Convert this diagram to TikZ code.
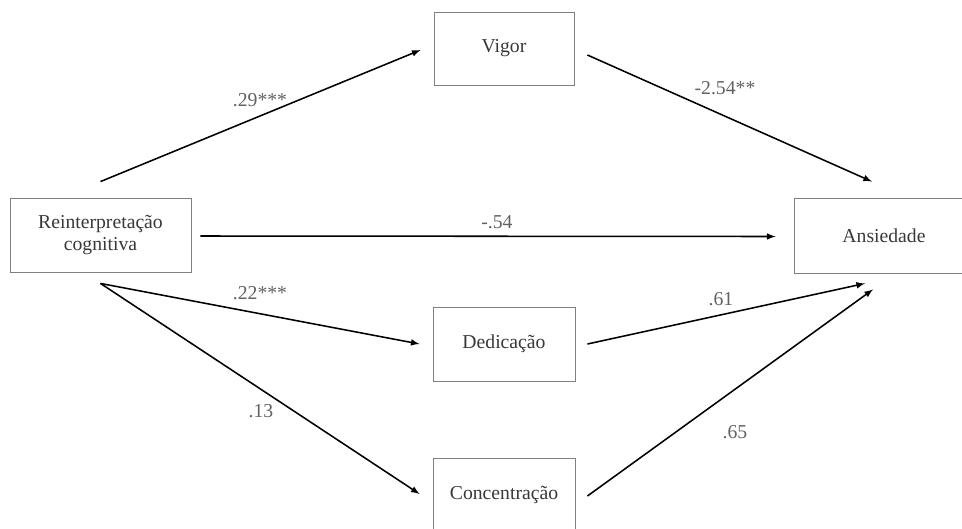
\documentclass[tikz,border=0pt]{standalone}
\usepackage{fontspec}
\setmainfont{Liberation Serif}
\usetikzlibrary{arrows}
\definecolor{boxgray}{rgb}{0.5,0.5,0.5}
\definecolor{textgray}{rgb}{0.22,0.22,0.22}
\definecolor{labelgray}{rgb}{0.38,0.38,0.38}

\begin{document}
\begin{tikzpicture}
      [x = 0.025cm, y = -0.025cm,
      path/.style={-latex, line width = 1.1pt},
      box/.style= {
         draw = boxgray,
         line width = 0.6pt,
         text = textgray,
         align = center,
         inner sep = 0pt,
         font = \fontsize{14}{15.5}\selectfont
      },
      coef/.style= {
         text = labelgray,
         inner sep = 0pt,
         font = \fontsize{14}{15.5}\selectfont
      }]

      \useasboundingbox (0, 0) rectangle (962, 528);

      \node[box, minimum width = 4.525cm, minimum height = 1.85cm] (reint) at (100.5, 235) {Reinterpretação\\cognitiva};
      \node[box, minimum width = 3.5cm, minimum height = 1.825cm] (vigor) at (504, 48.5) {Vigor};
      \node[box, minimum width = 4.5cm, minimum height = 1.875cm] (ansied) at (884, 235.5) {Ansiedade};
      \node[box, minimum width = 3.55cm, minimum height = 1.85cm] (dedic) at (504, 344) {Dedicação};
      \node[box, minimum width = 3.55cm, minimum height = 1.85cm] (concent) at (504, 495) {Concentração};

      \draw[path] ([shift={(0,-16)}]reint.north) -- ([shift={(-13,1.5)}]vigor.west);
      \draw[path] ([shift={(13,6.5)}]vigor.east) -- ([shift={(-12,-16)}]ansied.north);
      \draw[path] ([shift={(9,1)}]reint.east) -- ([shift={(-18,1)}]ansied.west);
      \draw[path] ([shift={(0,11)}]reint.south) -- ([shift={(-13,0)}]dedic.west);
      \draw[path] ([shift={(0,11)}]reint.south) -- ([shift={(-13,-1)}]concent.west);
      \draw[path] ([shift={(12,0)}]dedic.east) -- ([shift={(-19,10)}]ansied.south);
      \draw[path] ([shift={(12,1)}]concent.east) -- ([shift={(-11,16)}]ansied.south);

      \node[coef] (c29) at (260, 100) {.29***};
      \node[coef] (c254) at (725, 88) {-2.54**};
      \node[coef] (c54) at (497, 222) {-.54};
      \node[coef] (c22) at (260, 293) {.22***};
      \node[coef] (c61) at (721, 299) {.61};
      \node[coef] (c13) at (261, 411) {.13};
      \node[coef] (c65) at (735, 432) {.65};

   \end{tikzpicture}
\end{document}
